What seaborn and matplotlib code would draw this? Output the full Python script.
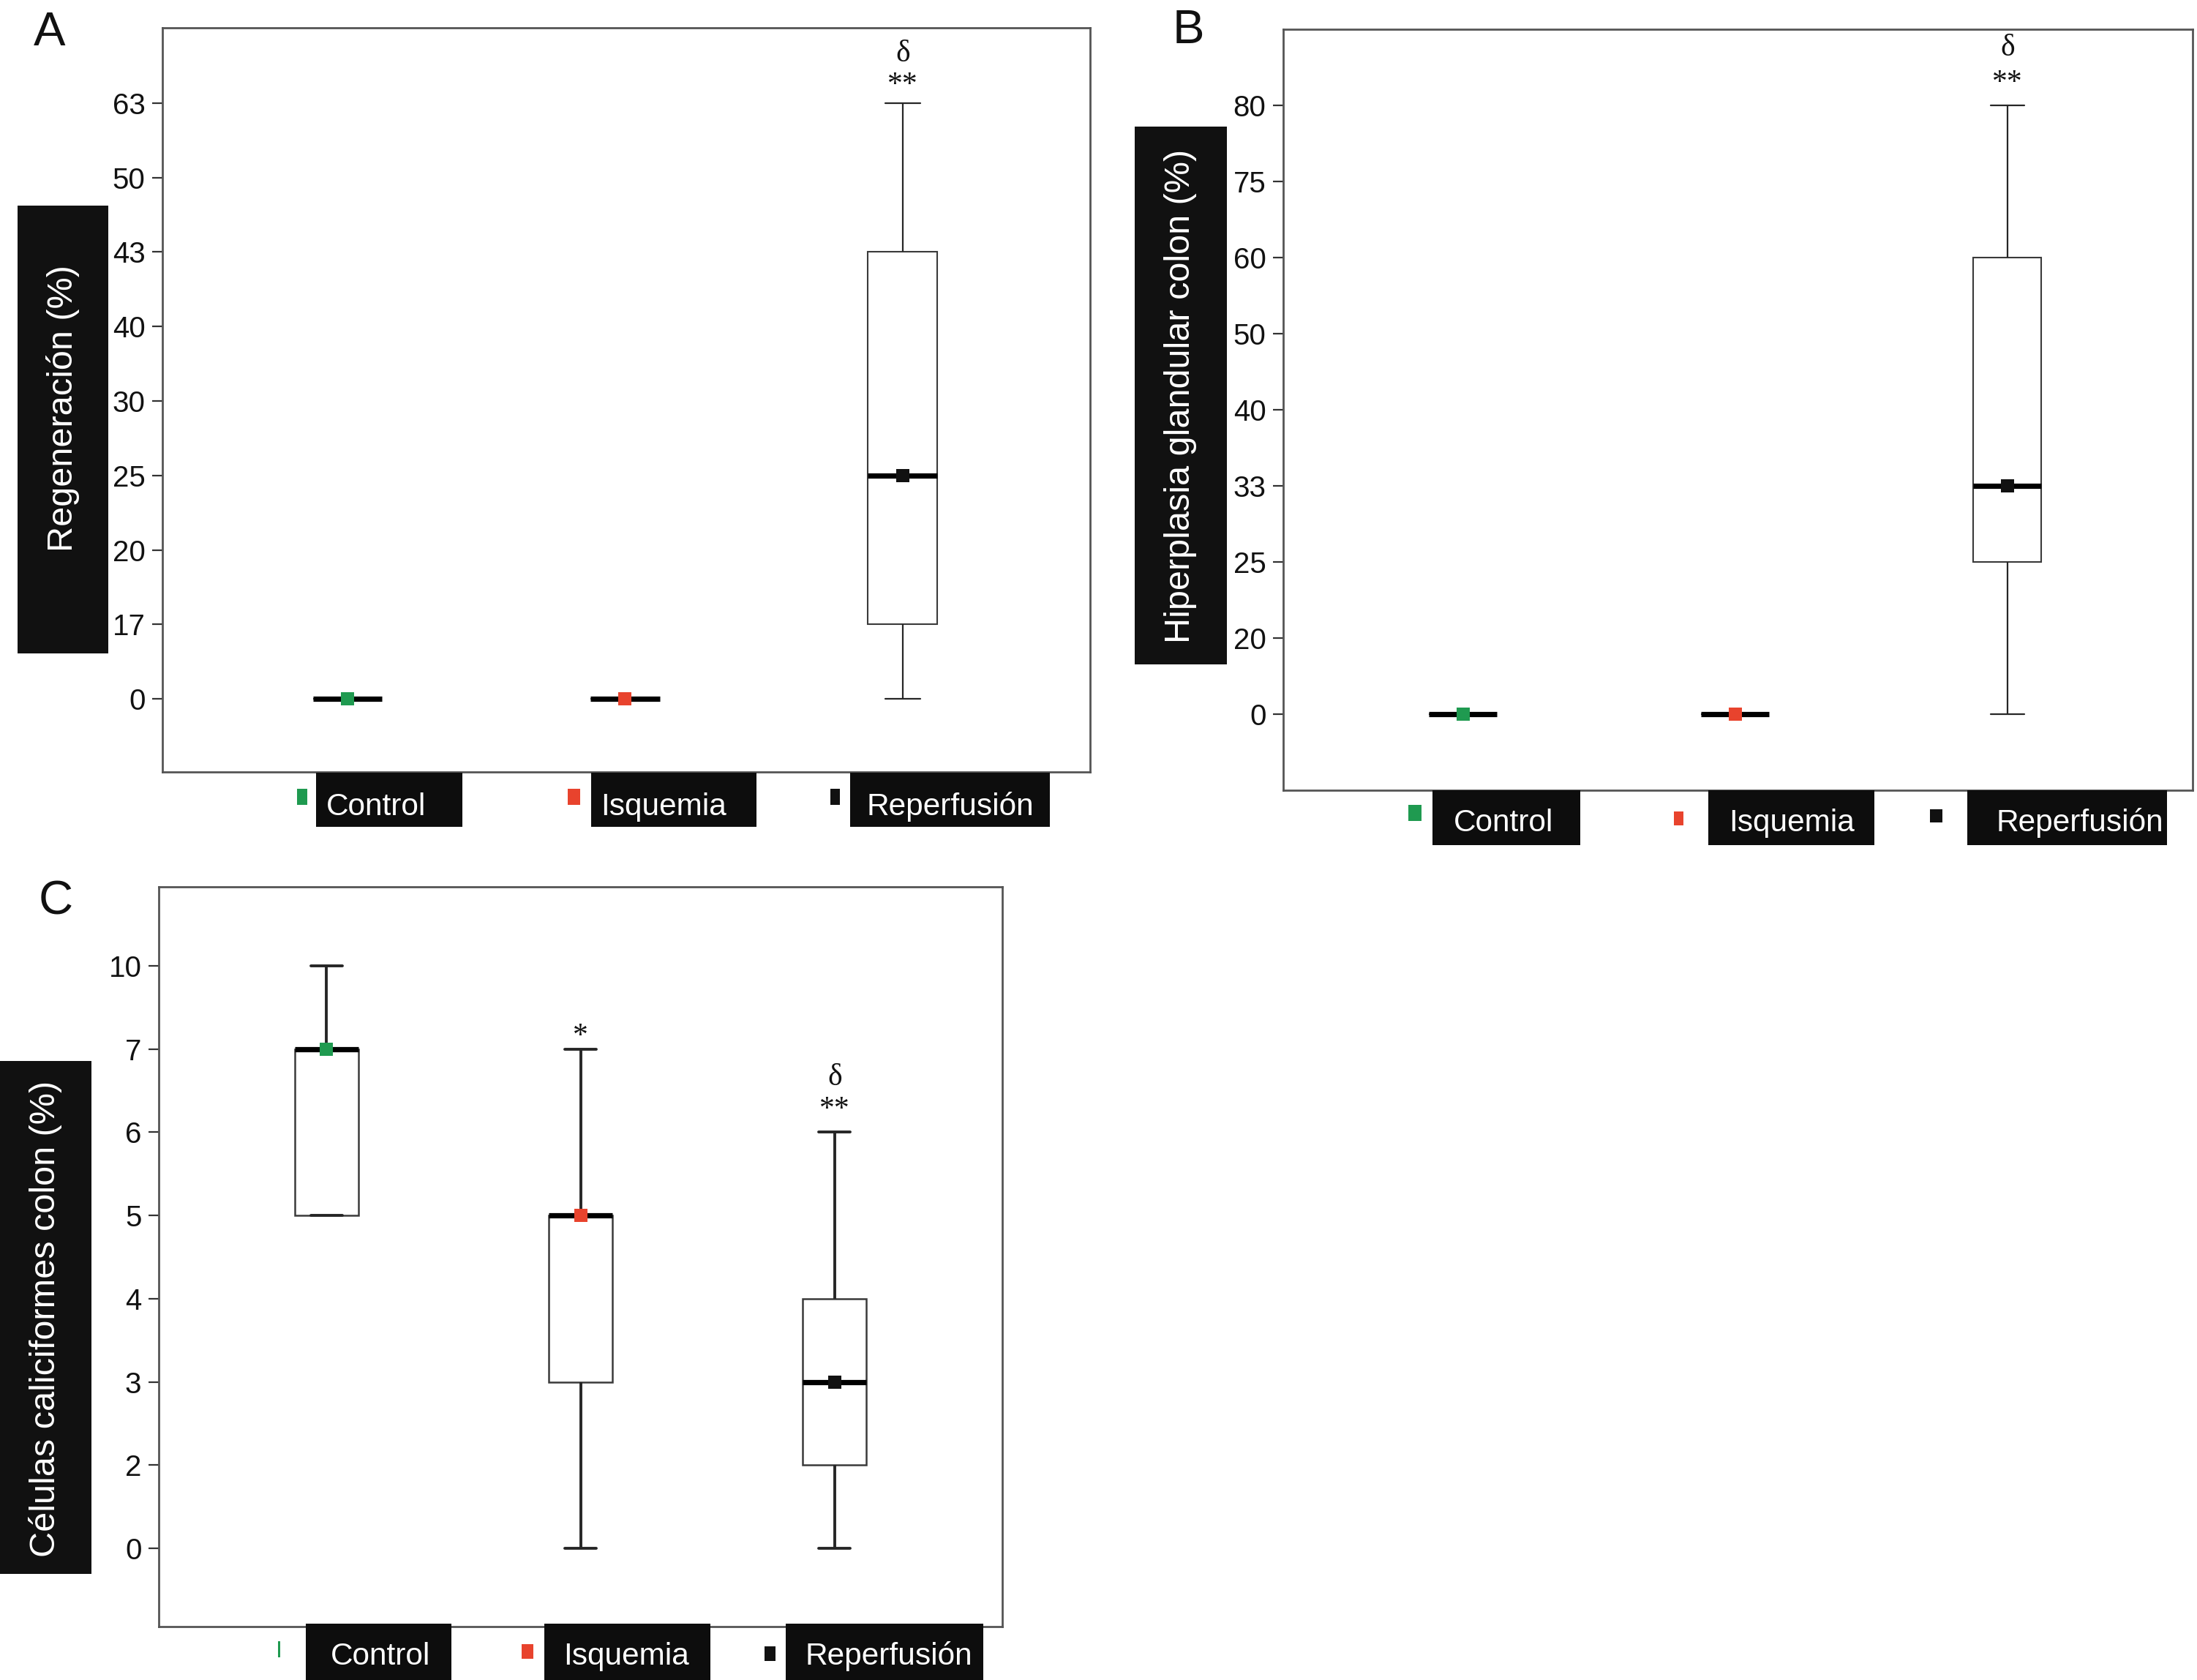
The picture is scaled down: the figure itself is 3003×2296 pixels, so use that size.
import numpy as np
import pandas as pd
import matplotlib
matplotlib.use("Agg")
import matplotlib.pyplot as plt
import seaborn as sns
from matplotlib.patches import Rectangle

# ---------------- data ----------------
groups = ["Control", "Isquemia", "Reperfusión"]
group_colors = ["#1f9a50", "#e8432d", "#111111"]

# Panel A  (ordinal axis: ticks equally spaced)
a_ylabel = "Regeneración (%)"
a_ticks = [0, 17, 20, 25, 30, 40, 43, 50, 63]
a_min = [0, 0, 0]
a_q1 = [0, 0, 17]
a_med = [0, 0, 25]
a_q3 = [0, 0, 43]
a_max = [0, 0, 63]

# Panel B
b_ylabel = "Hiperplasia glandular colon (%)"
b_ticks = [0, 20, 25, 33, 40, 50, 60, 75, 80]
b_min = [0, 0, 0]
b_q1 = [0, 0, 25]
b_med = [0, 0, 33]
b_q3 = [0, 0, 60]
b_max = [0, 0, 80]

# Panel C
c_ylabel = "Células caliciformes colon (%)"
c_ticks = [0, 2, 3, 4, 5, 6, 7, 10]
c_min = [5, 0, 0]
c_q1 = [5, 3, 2]
c_med = [7, 5, 3]
c_q3 = [7, 5, 4]
c_max = [10, 7, 6]

# significance marks: (group, text)
a_sig = [("Reperfusión", "δ"), ("Reperfusión", "**")]
b_sig = [("Reperfusión", "δ"), ("Reperfusión", "**")]
c_sig = [("Isquemia", "*"), ("Reperfusión", "δ"), ("Reperfusión", "**")]

# ---------------- layout (pixels in a 3003x2296 canvas) ----------------
W, H = 3003, 2296
sns.set_style("white")
plt.rcParams["font.family"] = ["Liberation Sans", "DejaVu Sans"]

fig = plt.figure(figsize=(W / 100, H / 100), dpi=100)


def fx(x):
    return x / W


def fy(y):
    return 1 - y / H


def add_ax(l, t, r, b):
    return fig.add_axes([fx(l), fy(b), (r - l) / W, (b - t) / H])


panels = [
    dict(letter="A", letter_xy=(46, 62), ax=(222, 38, 1490, 1055),
         ylim=(-0.98, 9.01), xlim=(-0.667, 2.675),
         ticks=a_ticks, stats=(a_min, a_q1, a_med, a_q3, a_max), ylabel=a_ylabel,
         ybox=(24, 281, 148, 893), ytext=(86, 558),
         sig=a_sig, sig_y=[8.56, 8.14],
         lw_box=1.5, lw_wh=1.6,
         leg_top=1056, leg_h=74, leg_base=1114,
         leg=[((406, 420, 1078, 1100), (432, 632), 446),
              ((776, 793, 1078, 1100), (808, 1034), 821),
              ((1135, 1148, 1078, 1100), (1162, 1435), 1184)]),
    dict(letter="B", letter_xy=(1603, 59), ax=(1754, 40, 2997, 1080),
         ylim=(-1.0, 9.0), xlim=(-0.66, 2.68),
         ticks=b_ticks, stats=(b_min, b_q1, b_med, b_q3, b_max), ylabel=b_ylabel,
         ybox=(1551, 173, 1677, 908), ytext=(1613, 541),
         sig=b_sig, sig_y=[8.65, 8.19],
         lw_box=1.5, lw_wh=1.6,
         leg_top=1080, leg_h=75, leg_base=1136,
         leg=[((1925, 1943, 1100, 1122), (1958, 2160), 1987),
              ((2288, 2301, 1109, 1128), (2335, 2562), 2363),
              ((2638, 2655, 1106, 1124), (2689, 2962), 2729)]),
    dict(letter="C", letter_xy=(53, 1249), ax=(217, 1212, 1370, 2223),
         ylim=(-0.94, 7.95), xlim=(-0.66, 2.66),
         ticks=c_ticks, stats=(c_min, c_q1, c_med, c_q3, c_max), ylabel=c_ylabel,
         ybox=(0, 1450, 125, 2151), ytext=(62, 1802),
         sig=c_sig, sig_y=[6.06, 5.57, 5.18],
         lw_box=1.8, lw_wh=2.8,
         leg_top=2219, leg_h=80, leg_base=2275,
         leg=[((380, 383, 2243, 2265), (418, 617), 452),
              ((713, 729, 2247, 2267), (744, 971), 770),
              ((1045, 1060, 2250, 2270), (1074, 1344), 1100)]),
]

for p in panels:
    ax = add_ax(*p["ax"])
    ticks = p["ticks"]
    mins, q1s, meds, q3s, maxs = p["stats"]
    rows = []
    for g, a, b, c, d, e in zip(groups, mins, q1s, meds, q3s, maxs):
        for v in (a, b, c, d, e):
            rows.append({"group": g, "rank": ticks.index(v)})
    df = pd.DataFrame(rows)

    sns.boxplot(data=df, x="group", y="rank", order=groups, ax=ax,
                width=0.25, whis=(0, 100), showfliers=False,
                color="white", linecolor="#3a3a3a", linewidth=p["lw_box"],
                medianprops=dict(color="black", linewidth=5.2),
                whiskerprops=dict(color="#262626", linewidth=p["lw_wh"]),
                capprops=dict(color="#262626", linewidth=p["lw_wh"]))

    med_df = pd.DataFrame({"group": groups,
                           "rank": [ticks.index(m) for m in meds]})
    sns.stripplot(data=med_df, x="group", y="rank", order=groups,
                  hue="group", hue_order=groups, palette=group_colors,
                  jitter=False, marker="s", size=12.5, linewidth=0,
                  legend=False, ax=ax, zorder=10)

    ax.set_xlim(*p["xlim"])
    ax.set_ylim(*p["ylim"])
    ax.set_yticks(range(len(ticks)))
    ax.set_yticklabels([str(t) for t in ticks])
    ax.set_xticks([])
    ax.set_xlabel("")
    ax.set_ylabel("")
    ax.tick_params(axis="y", left=True, length=10, width=1.6, color="#333333",
                   pad=7, labelsize=29, labelcolor="#111111")
    for s in ax.spines.values():
        s.set_visible(True)
        s.set_color("#555555")
        s.set_linewidth(2.0)

    for (g, txt), yv in zip(p["sig"], p["sig_y"]):
        ax.text(groups.index(g), yv, txt, ha="center", va="baseline",
                fontsize=30, family=["Liberation Serif", "DejaVu Serif"],
                color="#111111")

    # panel letter
    lx, ly = p["letter_xy"]
    fig.text(fx(lx), fy(ly), p["letter"], fontsize=47, ha="left",
             va="baseline", color="#111111")

    # y label on black box
    x0, y0, x1, y1 = p["ybox"]
    fig.patches.append(Rectangle((fx(x0), fy(y1)), (x1 - x0) / W, (y1 - y0) / H,
                                 transform=fig.transFigure, facecolor="#111111",
                                 edgecolor="none", zorder=1))
    tx, ty = p["ytext"]
    fig.text(fx(tx), fy(ty), p["ylabel"], rotation=90, ha="center",
             va="center", color="white", fontsize=35, zorder=2)

    # legend: marker + black label box
    for (mk, rect, txt_x), g, col in zip(p["leg"], groups, group_colors):
        mx0, mx1, my0, my1 = mk
        fig.patches.append(Rectangle((fx(mx0), fy(my1)), (mx1 - mx0) / W,
                                     (my1 - my0) / H, transform=fig.transFigure,
                                     facecolor=col, edgecolor="none", zorder=1))
        r0, r1 = rect
        fig.patches.append(Rectangle((fx(r0), fy(p["leg_top"] + p["leg_h"])),
                                     (r1 - r0) / W, p["leg_h"] / H,
                                     transform=fig.transFigure,
                                     facecolor="#0d0d0d", edgecolor="none",
                                     zorder=1))
        fig.text(fx(txt_x), fy(p["leg_base"]), g, ha="left", va="baseline",
                 color="white", fontsize=30.5, zorder=2)

fig.savefig("out.png", dpi=100)
